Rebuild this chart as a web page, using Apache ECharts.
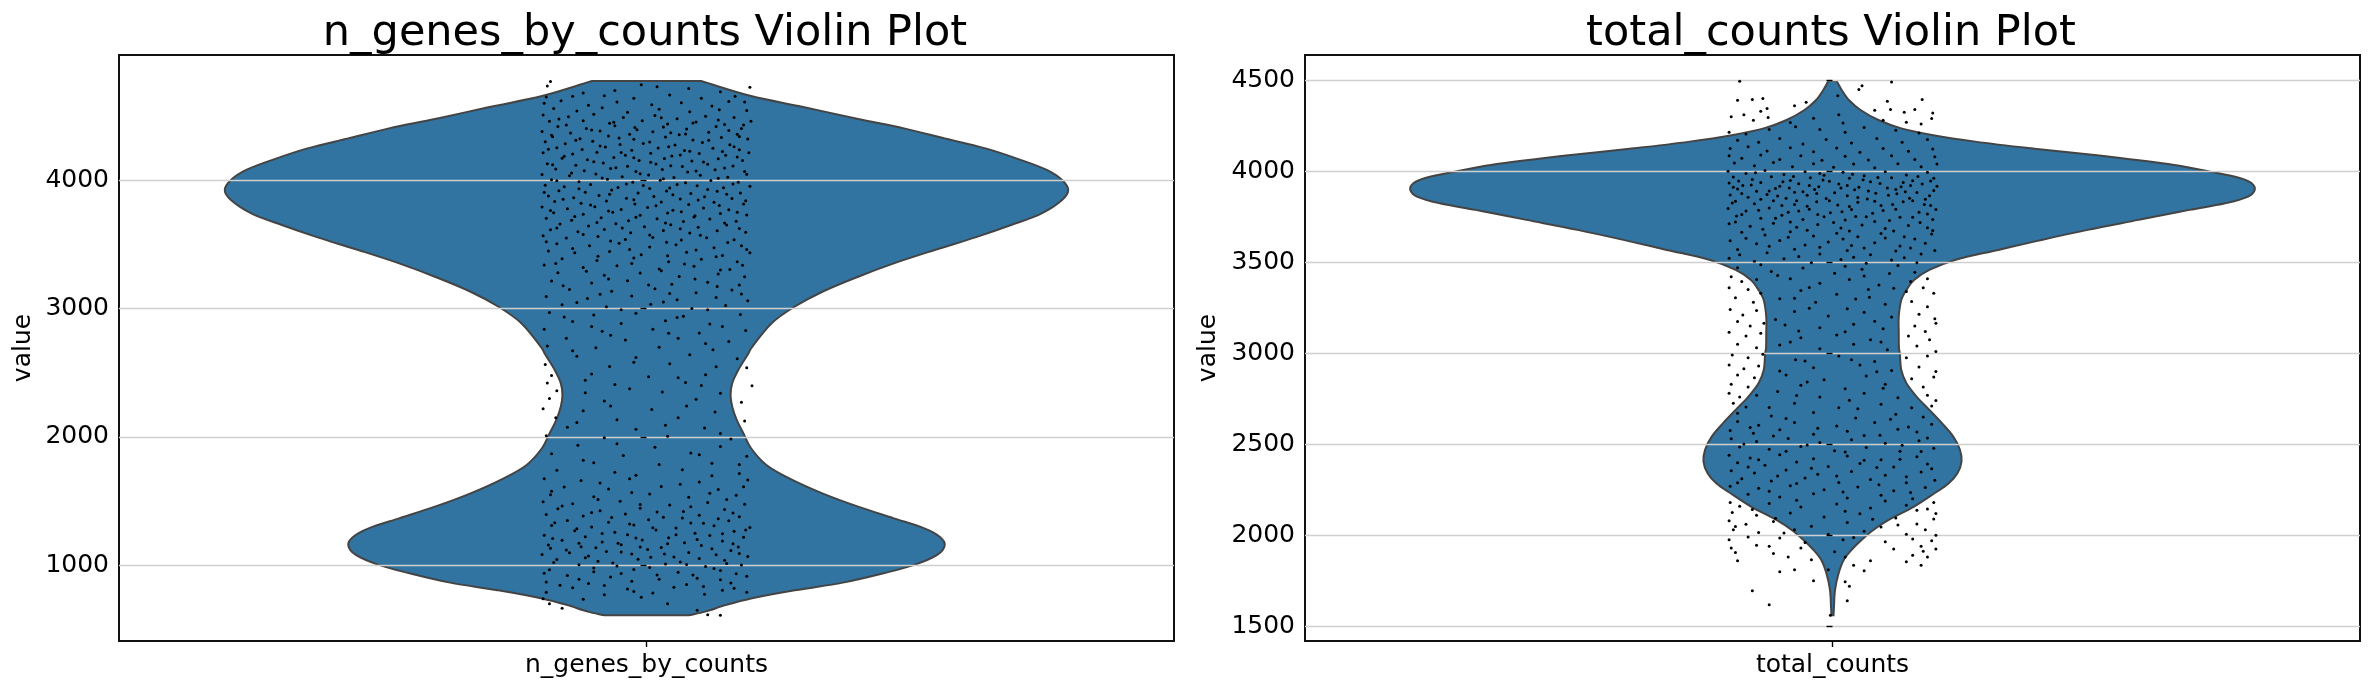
<!DOCTYPE html>
<html><head><meta charset="utf-8">
<style>html,body{margin:0;padding:0;background:#fff}#c{width:2371px;height:690px}</style>
<script src="https://cdn.jsdelivr.net/npm/echarts@6/dist/echarts.min.js"></script>
</head><body><div id="c"></div>
<script>
const titles = ['n_genes_by_counts Violin Plot', 'total_counts Violin Plot'];
const categoriesA = ['n_genes_by_counts'];
const categoriesB = ['total_counts'];
// violin half-width (x-axis units) at each value, top to bottom
const outlineA = [[4774,.0517],[4657,.0991],[4574,.1474],[4478,.2006],[4405,.2441],[4327,.2827],[4249,.3214],[4158,.3552],[4081,.3794],[4003,.3939],[3925,.3997],[3847,.3939],[3743,.3746],[3652,.3456],[3556,.3117],[3457,.2731],[3353,.2344],[3249,.2006],[3132,.1667],[3015,.1402],[2885,.1184],[2691,.0991],[2652,.0967],[2522,.0870],[2418,.0812],[2328,.0797],[2237,.0812],[2133,.0855],[2029,.0918],[1912,.0991],[1782,.1136],[1678,.1353],[1561,.1667],[1457,.2006],[1366,.2344],[1288,.2634],[1223,.2779],[1158,.2827],[1081,.2755],[1003,.2537],[938,.2247],[865,.1861],[808,.1426],[742,.0991],[690,.0749],[639,.0556],[610,.0396]];
const outlineB = [[4496,.0039],[4447,.0087],[4392,.0155],[4337,.0266],[4282,.0435],[4236,.0652],[4200,.0942],[4163,.1353],[4126,.1885],[4081,.2610],[4035,.3238],[3998,.3577],[3962,.3867],[3934,.3973],[3897,.4002],[3861,.3939],[3824,.3722],[3788,.3383],[3733,.2900],[3678,.2417],[3623,.1982],[3568,.1571],[3513,.1160],[3458,.0918],[3403,.0773],[3348,.0701],[3293,.0652],[3201,.0628],[3110,.0628],[3027,.0630],[3000,.0638],[2908,.0652],[2835,.0701],[2762,.0797],[2689,.0918],[2615,.1039],[2542,.1145],[2469,.1208],[2405,.1223],[2341,.1184],[2286,.1102],[2231,.0967],[2158,.0773],[2084,.0532],[2029,.0387],[1974,.0275],[1919,.0179],[1864,.0106],[1791,.0058],[1700,.0024],[1608,.0014],[1560,.001]];
// jitter dots, hand-placed to follow the density seen in the picture
const dotsA = [[-.091,4770],[-.094,4735],[.098,4725],[-.005,4745],[.01,4730],[-.03,4700],[.04,4715],[-.06,4680],[.07,4690],[-.095,4650],[-.07,4655],[-.04,4660],[-.012,4640],[.022,4665],[.052,4640],[.084,4655],[.093,4610],
[-.097,4600],[-.081,4620],[-.055,4585],[-.028,4610],[.005,4590],[.033,4605],[.062,4580],[.078,4615],[-.088,4560],[-.066,4540],[-.042,4565],[-.018,4530],[.012,4555],[.041,4535],[.069,4550],[.095,4545],[-.098,4510],[-.074,4495],[-.05,4515],[-.022,4490],[.008,4505],[.029,4480],[.056,4500],[.083,4490],[-.092,4460],[-.06,4465],[-.035,4445],[-.004,4465],[.02,4440],[.047,4455],[.074,4435],[.099,4460],
[-.084,4420],[-.057,4405],[-.03,4425],[-.009,4395],[.016,4415],[.038,4400],[.066,4420],[.09,4405],[-.099,4380],[-.072,4370],[-.044,4385],[-.016,4360],[.006,4378],[.031,4355],[.059,4375],[.086,4360],[-.089,4340],[-.063,4325],[-.036,4345],[-.012,4320],[.018,4338],[.044,4315],[.071,4335],[.096,4322],[-.096,4300],[-.077,4285],[-.051,4305],[-.025,4280],[.003,4298],[.027,4275],[.053,4295],[.079,4278],
[-.085,4255],[-.061,4240],[-.039,4260],[-.014,4235],[.011,4252],[.036,4232],[.063,4250],[.088,4238],[-.098,4215],[-.07,4205],[-.047,4220],[-.02,4195],[.004,4212],[.024,4190],[.05,4210],[.075,4195],[.097,4215],[-.08,4172],[-.056,4160],[-.031,4178],[-.007,4155],[.017,4170],[.043,4150],[.068,4168],[.091,4155],[-.094,4130],[-.067,4118],[-.041,4135],[-.018,4110],[.009,4128],[.034,4108],[.058,4125],[.082,4112],[-.086,4088],[-.059,4075],[-.034,4092],[-.01,4070],[.015,4085],[.039,4065],[.065,4082],[.093,4070],
[-.099,4045],[-.073,4035],[-.048,4050],[-.023,4028],[.002,4042],[.026,4022],[.051,4040],[.077,4025],[-.09,4005],[-.064,3990],[-.037,4008],[-.013,3985],[.013,4000],[.037,3982],[.061,3998],[.087,3985],[-.096,3962],[-.078,3950],[-.053,3968],[-.027,3945],[-.003,3960],[.022,3940],[.048,3958],[.073,3942],[.098,3955],[-.083,3920],[-.058,3908],[-.033,3925],[-.008,3902],[.019,3918],[.042,3898],[.067,3915],[.089,3902],[-.093,3878],[-.069,3865],[-.045,3882],[-.019,3860],[.007,3875],[.032,3855],[.055,3872],[.081,3858],[-.087,3835],[-.062,3822],[-.038,3840],[-.011,3815],[.014,3832],[.04,3812],[.064,3830],[.092,3815],
[-.099,3792],[-.075,3778],[-.049,3795],[-.024,3772],[.001,3788],[.025,3768],[.054,3785],[.078,3770],[-.088,3748],[-.06,3735],[-.032,3752],[-.006,3728],[.02,3745],[.046,3725],[.07,3742],[.095,3730],[-.095,3705],[-.071,3690],[-.043,3708],[-.017,3685],[.01,3700],[.035,3680],[.06,3698],[.085,3682],[-.082,3660],[-.055,3645],[-.029,3662],[-.002,3638],[.023,3655],[.049,3635],[.076,3652],[-.091,3615],[-.065,3600],[-.04,3618],[-.015,3592],[.016,3610],[.041,3590],[.067,3608],[.094,3595],[-.098,3568],[-.076,3550],[-.046,3562],[-.02,3540],[.006,3555],[.033,3535],[.057,3552],[.083,3538],
[-.085,3505],[-.054,3490],[-.026,3510],[.003,3480],[.028,3498],[.064,3475],[.09,3490],[-.093,3450],[-.068,3435],[-.035,3445],[-.005,3420],[.038,3440],[.072,3415],[.098,3435],[-.08,3390],[-.047,3375],[-.012,3395],[.021,3365],[.052,3385],[.086,3365],[-.097,3340],[-.06,3320],[-.028,3335],[.012,3310],[.045,3330],[.079,3305],[-.084,3280],[-.04,3260],[-.006,3278],[.031,3250],[.068,3270],[.093,3248],[-.09,3215],[-.052,3200],[-.018,3218],[.024,3190],[.058,3205],[.088,3185],[-.073,3150],[-.033,3135],[.008,3155],[.047,3125],[.081,3145],[-.095,3095],[-.056,3080],[-.014,3098],[.029,3070],[.066,3088],[.096,3062],[-.08,3030],[-.038,3015],[.004,3035],[.043,3002],[.075,3025],[-.092,2970],[-.05,2950],[-.01,2965],[.035,2940],[.089,2955],[-.07,2900],[-.024,2885],[.018,2905],[.06,2880],[-.097,2840],[-.042,2825],[.006,2840],[.05,2810],[.094,2830],[-.076,2770],[-.02,2755],[.03,2770],[.078,2745],[-.094,2710],[-.048,2695],[.012,2700],[.063,2680],[-.066,2630],[-.01,2620],[.041,2640],[.086,2610],[-.096,2565],[-.035,2550],[.022,2570],[.095,2540],[-.09,2480],[-.052,2490],[.002,2470],[.056,2485],[-.094,2420],[-.03,2410],[.037,2425],[.1,2400],[-.085,2360],[-.058,2345],[.015,2350],[.07,2340],[-.092,2300],[-.04,2280],[.047,2295],[.09,2270],[-.098,2220],[-.06,2205],[.005,2215],[.065,2195],[-.086,2150],[-.028,2135],[.03,2150],[.093,2125],[-.075,2075],[-.01,2060],[.055,2070],[-.095,2010],[-.04,1995],[.02,2005],[.08,1985],[-.065,1935],[.008,1920],[.07,1925],[-.09,1870],[-.022,1855],[.042,1875],[.095,1850],[-.05,1800],[.012,1785],[.062,1795],[-.085,1740],[-.03,1725],[.034,1745],[.088,1715],
[-.097,1675],[-.062,1660],[-.016,1675],[.05,1650],[.096,1665],[-.078,1610],[-.036,1595],[.014,1615],[.068,1590],[-.091,1550],[-.05,1535],[.003,1555],[.04,1530],[.085,1545],[-.098,1495],[-.07,1480],[-.025,1500],[.022,1470],[.058,1490],[.093,1475],[-.084,1440],[-.044,1425],[-.006,1445],[.035,1420],[.074,1435],[-.095,1395],[-.06,1385],[-.02,1400],[.016,1375],[.05,1390],[.088,1378],[-.075,1350],[-.036,1335],[.002,1355],[.042,1330],[.078,1348],[-.09,1310],[-.052,1298],[-.012,1315],[.028,1290],[.064,1308],[.098,1295],[-.068,1270],[-.03,1258],[.009,1275],[.046,1250],[.083,1265],[-.097,1235],[-.058,1222],[-.018,1238],[.021,1215],[.06,1232],[.092,1218],[-.08,1195],[-.042,1182],[-.004,1198],[.036,1175],[.072,1190],[-.093,1158],[-.062,1145],[-.024,1160],[.014,1138],[.052,1155],[.087,1142],[-.076,1120],[-.038,1108],[.001,1124],[.04,1100],[.08,1116],[-.099,1085],[-.055,1072],[-.014,1088],[.026,1065],[.066,1082],[.096,1068],[-.085,1045],[-.046,1032],[-.008,1048],[.032,1025],[.074,1040],[-.064,1005],[-.028,995],[.018,1010],[.056,990],[.09,1002],[-.092,965],[-.05,950],[-.012,968],[.03,945],[.07,960],[-.075,920],[-.034,908],[.01,925],[.048,900],[.095,915],[-.095,870],[-.055,858],[-.014,875],[.038,850],[.08,862],[-.07,825],[-.018,815],[.026,828],[.072,805],[-.095,790],[-.04,770],[.006,785],[.055,775],[.095,790],[-.098,740],[-.06,735],[-.005,750],[.02,700],[-.092,700],[-.08,665],[.048,650],[.058,615],[.07,610]];
const dotsA2 = [[-.083,4478],[-.031,4452],[.014,4487],[.068,4471],[-.076,4431],[-.011,4412],[.044,4448],[.092,4431],[-.052,4392],[.023,4371],[.078,4388],[-.09,4352],[-.026,4331],[.037,4362],[.088,4341],[-.067,4312],[-.003,4288],[.059,4313],[-.044,4268],[.021,4262],[.083,4262],[-.093,4242],[-.024,4218],[.041,4226],[.072,4224],[-.078,4188],[-.012,4176],[.032,4198],[.086,4182],[-.05,4146],[.004,4141],[.054,4144],[-.089,4122],[-.029,4098],[.023,4114],[.074,4096],[-.071,4058],[-.006,4052],[.047,4072],[.095,4048],[-.042,4018],[.016,4012],[.068,4016],[-.085,3996],[-.019,3972],[.029,3968],[.082,3972],[-.064,3934],[.003,3936],[.058,3928],[-.097,3908],[-.035,3892],[.025,3888],[.076,3892],[-.079,3852],[-.012,3848],[.049,3846],[.094,3842],[-.053,3808],[.009,3802],[.069,3804],[-.091,3765],[-.036,3762],[.033,3756],[.086,3752],[-.068,3718],[-.01,3712],[.045,3714],[-.047,3672],[.018,3668],[.074,3668],[-.085,3628],[-.023,3628],[.032,3622],[.088,3624],[-.06,3578],[.003,3574],[.051,3572],[-.095,3522],[-.034,3528],[.019,3518],[.077,3515],[-.07,3468],[-.016,3462],[.047,3458],[.095,3462],[-.046,3408],[.02,3412],[.066,3405],[-.086,3352],[-.014,3352],[.036,3348],[.091,3338],[-.057,3292],[.014,3296],[.07,3302],[-.036,3232],[.046,3232],[-.079,3178],[.002,3184],[.067,3172],[-.044,3112],[.022,3118],[.09,3114],[-.066,3048],[.016,3052],[-.024,2992],[.058,2992],[-.078,2935],[.029,2932],[-.052,2862],[.072,2862],[-.034,2792],[.021,2808],[.056,2728],[-.07,2672],[-.012,2582],[.066,2548],[-.058,2442],[.03,2462],[-.016,2376],[.052,2402],[-.034,2242],[.038,2242],[-.066,2112],[.018,2092],[.07,2028],[-.028,1948],[.05,1862],[-.06,1818],[.088,1785],[-.01,1702],[.062,1698],[-.044,1642],[.032,1632],[.092,1612],[-.09,1578],[-.014,1568],[.06,1562],[-.046,1512],[.076,1512],[-.08,1462],[-.006,1474],[.042,1456],[-.052,1412],[.01,1416],[.082,1408],[-.033,1372],[.034,1368],[.068,1362],[-.087,1332],[-.016,1322],[.054,1328],[-.066,1284],[.006,1292],[.094,1276],[-.042,1248],[.028,1238],[.072,1246],[-.089,1208],[-.01,1212],[.048,1202],[-.064,1172],[-.027,1172],[.02,1168],[.082,1168],[-.091,1132],[-.048,1136],[-.006,1142],[.062,1128],[-.073,1098],[-.024,1104],[.017,1088],[.088,1092],[-.058,1058],[.004,1062],[.05,1052],[-.088,1022],[-.032,1018],[.038,1006],[.076,1014],[-.05,978],[.003,982],[.064,976],[-.097,938],[-.024,936],[.044,924],[.085,934],[-.064,892],[.012,892],[.07,888],[-.04,842],[.054,834],[-.082,845],[-.012,796],[.083,822]];
const dotsB = [[-.088,4495],[.056,4490],[.028,4470],[.025,4450],[-.09,4390],[-.076,4395],[-.066,4400],[.085,4395],[.052,4385],[.005,4415],[-.062,4345],[-.036,4360],[-.025,4380],[-.096,4300],[-.084,4310],[-.075,4280],[-.068,4330],[-.061,4295],[.04,4335],[.055,4340],[.068,4325],[.078,4340],[.095,4320],[.094,4290],[.084,4260],[.07,4270],[.048,4280],[-.04,4268],[-.018,4292],[.006,4310],[.01,4265],
[-.098,4215],[-.082,4205],[-.06,4230],[-.035,4245],[-.012,4230],[.012,4215],[.03,4240],[.06,4225],[.082,4210],[-.09,4170],[-.07,4160],[-.05,4180],[-.028,4150],[-.006,4175],[.018,4155],[.042,4180],[.066,4160],[.09,4175],[-.097,4125],[-.08,4135],[-.062,4112],[-.04,4130],[-.018,4108],[.004,4128],[.026,4105],[.048,4125],[.072,4110],[.095,4122],[-.098,4085],[-.086,4072],[-.068,4090],[-.05,4065],[-.03,4085],[-.01,4060],[.012,4082],[.034,4062],[.056,4085],[.078,4065],[.097,4080],[-.093,4045],[-.074,4030],[-.056,4048],[-.038,4025],[-.018,4042],[.001,4022],[.02,4040],[.04,4020],[.062,4042],[.084,4025],[.099,4040],
[-.099,4000],[-.082,3988],[-.064,4005],[-.046,3982],[-.026,3998],[-.008,3978],[.01,3995],[.03,3975],[.05,3998],[.07,3980],[.09,3995],[-.094,3968],[-.076,3955],[-.058,3970],[-.04,3950],[-.021,3965],[-.003,3945],[.016,3962],[.036,3942],[.056,3965],[.076,3948],[.096,3962],[-.098,3935],[-.085,3922],[-.068,3938],[-.05,3918],[-.032,3932],[-.013,3915],[.006,3930],[.025,3912],[.045,3933],[.065,3915],[.085,3930],[.099,3918],[-.09,3902],[-.072,3890],[-.054,3905],[-.036,3885],[-.017,3900],[.002,3882],[.021,3898],[.041,3880],[.06,3900],[.08,3884],[.096,3895],[-.097,3870],[-.08,3858],[-.062,3872],[-.044,3852],[-.024,3868],[-.006,3850],[.014,3865],[.033,3848],[.053,3868],[.073,3852],[.092,3866],
[-.092,3835],[-.074,3822],[-.056,3838],[-.036,3818],[-.015,3832],[.005,3815],[.024,3830],[.046,3812],[.067,3832],[.087,3818],[-.099,3795],[-.082,3782],[-.06,3798],[-.042,3775],[-.022,3792],[-.002,3772],[.018,3790],[.038,3770],[.06,3792],[.082,3775],[.098,3790],[-.091,3755],[-.068,3742],[-.048,3758],[-.028,3735],[-.008,3750],[.012,3732],[.032,3750],[.054,3730],[.076,3748],[.095,3735],[-.098,3712],[-.078,3698],[-.056,3715],[-.034,3692],[-.014,3708],[.008,3688],[.028,3705],[.05,3685],[.072,3702],[.09,3690],[-.086,3665],[-.064,3650],[-.04,3668],[-.018,3645],[.004,3660],[.024,3640],[.046,3658],[.068,3640],[.094,3655],[-.097,3618],[-.072,3602],[-.05,3620],[-.026,3595],[-.004,3612],[.018,3592],[.04,3608],[.064,3590],[.088,3605],[-.09,3570],[-.062,3552],[-.036,3572],[-.012,3545],[.014,3565],[.036,3542],[.06,3562],[.084,3545],[.097,3565],[-.098,3522],[-.074,3505],[-.046,3520],[-.02,3498],[.008,3515],[.032,3495],[.056,3512],[.08,3498],
[-.09,3470],[-.058,3450],[-.028,3468],[.002,3440],[.028,3462],[.054,3438],[.078,3445],[-.096,3420],[-.086,3395],[-.072,3405],[-.04,3410],[-.012,3385],[.016,3405],[.044,3375],[.074,3395],[.09,3410],[-.098,3360],[-.08,3350],[-.068,3330],[-.03,3345],[.004,3325],[.034,3350],[.07,3340],[.086,3360],[.096,3330],[-.092,3305],[-.075,3280],[-.05,3300],[-.016,3280],[.022,3298],[.05,3270],[.075,3285],[.09,3255],[-.097,3240],[-.085,3210],[-.072,3235],[-.036,3230],[-.004,3205],[.03,3225],[.056,3200],[.082,3215],[.097,3190],[-.09,3175],[-.078,3150],[-.065,3165],[-.045,3155],[-.012,3140],[.02,3160],[.048,3135],[.078,3150],[.088,3120],[.098,3165],[-.098,3115],[-.082,3095],[-.068,3110],[-.03,3085],[.004,3100],[.036,3075],[.072,3095],[.092,3075],[-.09,3050],[-.072,3030],[-.05,3045],[-.012,3025],[.02,3050],[.052,3020],[.08,3040],[.098,3010],[-.095,2990],[-.08,2975],[-.066,2995],[-.035,2965],[.006,2985],[.04,2955],[.07,2975],[.09,2985],[-.098,2935],[-.084,2915],[-.07,2930],[-.018,2920],[.026,2935],[.056,2905],[.082,2925],[.098,2900],[-.09,2880],[-.074,2865],[-.044,2880],[-.008,2855],[.032,2875],[.075,2860],[.096,2870],[-.096,2830],[-.08,2815],[-.03,2825],[.012,2805],[.05,2830],[.086,2815],[-.098,2780],[-.088,2760],[-.072,2770],[-.052,2790],[-.012,2760],[.03,2780],[.062,2755],[.09,2770],[.098,2740],[-.094,2725],[-.082,2705],[-.036,2725],[.006,2700],[.046,2720],[.075,2700],[.094,2710],[-.09,2670],[-.058,2655],[-.018,2675],[.022,2645],[.06,2665],[.086,2650],[-.09,2625],[-.07,2605],[-.036,2620],[.004,2600],[.04,2620],[.072,2595],[.094,2610],[-.097,2575],[-.075,2560],[-.05,2580],[-.018,2555],[.014,2572],[.045,2550],[.08,2568],
[-.096,2530],[-.072,2515],[-.042,2532],[-.012,2510],[.018,2525],[.05,2505],[.082,2520],[-.088,2485],[-.06,2472],[-.03,2488],[.002,2465],[.032,2482],[.064,2462],[.096,2478],[-.098,2440],[-.078,2425],[-.05,2442],[-.018,2420],[.014,2435],[.046,2415],[.08,2432],[-.09,2398],[-.064,2385],[-.034,2402],[-.004,2378],[.026,2395],[.058,2375],[.09,2392],[-.096,2355],[-.074,2342],[-.044,2358],[-.014,2335],[.018,2350],[.05,2330],[.084,2348],[-.086,2310],[-.058,2298],[-.026,2314],[.006,2290],[.036,2306],[.07,2288],[.097,2302],[-.097,2270],[-.07,2258],[-.04,2272],[-.008,2250],[.024,2265],[.058,2245],[.088,2262],[-.08,2225],[-.05,2210],[-.018,2228],[.014,2205],[.046,2220],[.076,2200],[-.097,2180],[-.088,2160],[-.06,2175],[-.03,2155],[.004,2172],[.036,2150],[.07,2165],[.096,2180],[.09,2145],[-.095,2125],[-.072,2110],[-.04,2122],[-.008,2100],[.026,2118],[.06,2095],[.098,2120],[-.098,2080],[-.082,2060],[-.056,2075],[-.02,2050],[.014,2070],[.046,2045],[.08,2062],[.096,2090],[-.094,2030],[-.07,2015],[-.036,2030],[-.004,2005],[.03,2022],[.07,2005],[.088,2030],[.098,2000],[-.098,1975],[-.08,1990],[-.05,1985],[-.026,1960],[.01,1975],[.05,1965],[.076,1980],[.094,1970],[-.096,1930],[-.06,1940],[-.03,1930],[.002,1910],[.058,1925],[.084,1940],[.098,1925],[-.09,1860],[-.056,1900],[-.042,1880],[-.02,1865],[.012,1880],[.036,1860],[.07,1855],[.09,1880],[.084,1835],[-.05,1800],[-.036,1810],[-.004,1810],[.02,1835],[.03,1805],[.012,1745],[-.018,1750],[.016,1720],[-.076,1695],[-.06,1618],[.014,1640],[-.002,1560]];
const dotsB2 = [[-.073,3992],[-.037,3971],[-.012,3988],[.019,3984],[.043,3966],[.081,3971],[-.089,3946],[-.047,3942],[-.009,3952],[.029,3954],[.067,3938],[.093,3946],[-.077,3925],[-.041,3908],[-.022,3922],[.014,3922],[.052,3908],[.074,3922],[-.094,3912],[-.06,3892],[-.028,3888],[.008,3908],[.034,3892],[.069,3888],[-.086,3878],[-.052,3864],[-.015,3878],[.024,3856],[.061,3876],[.088,3846],[-.068,3846],[-.034,3838],[-.003,3838],[.04,3836],[.076,3838],[-.095,3826],[-.048,3812],[-.024,3808],[.016,3806],[.057,3818],[.093,3812],[-.07,3786],[-.032,3782],[.009,3778],[.048,3784],[.09,3766],[-.086,3762],[-.054,3742],[-.014,3762],[.022,3752],[.064,3748],[-.092,3722],[-.04,3722],[.001,3718],[.04,3724],[.083,3718],[-.066,3682],[-.024,3676],[.016,3672],[.058,3672],[.095,3675],[-.082,3632],[-.042,3638],[.01,3628],[.05,3634],[.078,3628],[-.06,3588],[-.012,3582],[.03,3578],[.074,3578],[-.088,3542],[-.032,3532],[.02,3528],[.068,3525],[-.068,3486],[.012,3478],[.062,3482],[-.052,3428],[.03,3424],[-.022,3362],[.058,3358],[-.036,3302],[.035,3308],[-.022,3248],[.014,3245],[-.054,3186],[.04,3176],[-.032,3122],[.012,3118],[-.04,3062],[.046,3062],[-.026,2958],[.018,2965],[-.05,2902],[.042,2898],[-.024,2842],[.048,2808],[-.034,2768],[.016,2742],[-.06,2702],[.024,2695],[-.044,2642],[.055,2638],[-.078,2592],[-.014,2588],[.062,2582],[-.056,2546],[.03,2548],[.09,2535],[-.084,2502],[-.024,2496],[.066,2495],[-.044,2462],[.012,2458],[.084,2460],[-.07,2415],[.03,2412],[.064,2418],[-.08,2375],[-.02,2368],[.042,2372],[.094,2365],[-.052,2326],[.004,2325],[.07,2322],[-.09,2288],[-.034,2285],[.044,2278],[-.06,2242],[.01,2238],[.074,2235],[-.034,2192],[.05,2188],[-.076,2142],[.012,2132],[.08,2138],[-.054,2094],[.038,2088],[-.092,2048],[.062,2056],[-.046,2012],[.02,1988],[-.072,1945],[.086,1912],[-.092,1905],[.076,1890]];
const yTicksA = [1000, 2000, 3000, 4000];
const yTicksB = [1500, 2000, 2500, 3000, 3500, 4000, 4500];

const textColor = '#000';
const font = 'DejaVu Sans';
// smooth curve through the outline's pixel positions (each side), caps stay straight
function curve(p, start) {
  let d = start ? 'M' + p[0][0] + ' ' + p[0][1] : 'L' + p[0][0] + ' ' + p[0][1];
  for (let i = 0; i < p.length - 1; i++) {
    const a = p[Math.max(i - 1, 0)], b = p[i], c = p[i + 1], e = p[Math.min(i + 2, p.length - 1)];
    const seg = Math.hypot(c[0] - b[0], c[1] - b[1]);
    const d0 = Math.hypot(c[0] - a[0], c[1] - a[1]) || 1, d1 = Math.hypot(e[0] - b[0], e[1] - b[1]) || 1;
    const c1x = b[0] + (c[0] - a[0]) * seg / d0 / 3, c1y = b[1] + (c[1] - a[1]) * seg / d0 / 3;
    const c2x = c[0] - (e[0] - b[0]) * seg / d1 / 3, c2y = c[1] - (e[1] - b[1]) * seg / d1 / 3;
    d += 'C' + c1x + ' ' + c1y + ' ' + c2x + ' ' + c2y + ' ' + c[0] + ' ' + c[1];
  }
  return d;
}
function violin(outline, xIdx, yIdx) {
  return {
    type: 'custom', xAxisIndex: xIdx, yAxisIndex: yIdx, z: 1, silent: true, clip: true,
    coordinateSystem: 'cartesian2d', data: [[0, outline[0][0]]],
    renderItem: function (params, api) {
      const right = outline.map(r => api.coord([r[1], r[0]]));
      const left = outline.slice().reverse().map(r => api.coord([-r[1], r[0]]));
      return { type: 'path', shape: { pathData: curve(right, true) + curve(left, false) + 'Z' },
        style: { fill: '#3274a1', stroke: '#444444', lineWidth: 2, lineJoin: 'round' } };
    }
  };
}
function dots(points, xIdx, yIdx) {
  return { type: 'scatter', xAxisIndex: xIdx, yAxisIndex: yIdx, z: 5, silent: true, symbol: 'circle',
    symbolSize: 3, itemStyle: { color: '#000', opacity: 1 }, data: points, animation: false };
}
function yAxis(gridIndex, min, max, ticks) {
  return { type: 'value', gridIndex, min, max, z: 3,
    name: 'value', nameLocation: 'middle', nameRotate: 90,
    nameGap: gridIndex === 0 ? 83 : 84, nameTextStyle: { fontFamily: font, fontSize: 25, color: textColor },
    axisLine: { show: false },
    axisTick: { show: true, length: 6, customValues: ticks, lineStyle: { color: '#000', width: 1.4 } },
    axisLabel: { fontFamily: font, fontSize: 25, color: textColor, margin: 10, customValues: ticks, formatter: v => String(v) },
    splitLine: { show: true, lineStyle: { color: '#cfcfcf', width: 1.4 } } };
}
function catAxis(gridIndex, names) {
  return { type: 'category', gridIndex, data: names, boundaryGap: true, position: 'bottom', z: 3,
    axisLine: { show: false }, axisTick: { show: true, alignWithLabel: true, length: 6, lineStyle: { color: '#000', width: 1.4 } },
    axisLabel: { fontFamily: font, fontSize: 25, color: textColor, margin: 12 }, splitLine: { show: false } };
}
function valAxis(gridIndex) {
  return { type: 'value', gridIndex, min: -0.5, max: 0.5, show: false };
}
const frame = { show: true, borderColor: '#111', borderWidth: 2, backgroundColor: '#fff' };
const chart = echarts.init(document.getElementById('c'), null, { renderer: 'canvas' });
chart.setOption({
  animation: false,
  backgroundColor: '#fff',
  title: [
    { text: titles[0], left: 640, top: 7, textAlign: 'center', textStyle: { fontFamily: font, fontSize: 43, fontWeight: 'normal', color: textColor } },
    { text: titles[1], left: 1826, top: 7, textAlign: 'center', textStyle: { fontFamily: font, fontSize: 43, fontWeight: 'normal', color: textColor } }
  ],
  grid: [
    Object.assign({ left: 119, top: 55, width: 1055, height: 586 }, frame),
    Object.assign({ left: 1305, top: 55, width: 1055, height: 586 }, frame)
  ],
  xAxis: [catAxis(0, categoriesA), valAxis(0), catAxis(1, categoriesB), valAxis(1)],
  yAxis: [yAxis(0, 410, 4977, yTicksA), yAxis(1, 1419, 4639, yTicksB)],
  series: [
    violin(outlineA, 1, 0), dots(dotsA.concat(dotsA2), 1, 0),
    violin(outlineB, 3, 1), dots(dotsB.concat(dotsB2), 3, 1)
  ]
});
</script></body></html>
